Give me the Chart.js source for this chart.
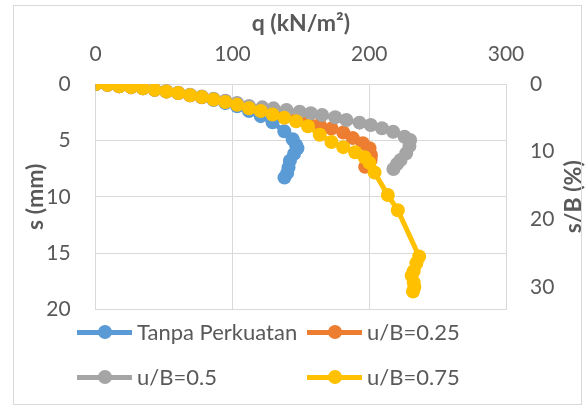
<!DOCTYPE html>
<html>
<head>
<meta charset="utf-8">
<script src="https://cdn.jsdelivr.net/npm/chart.js@4.4.1/dist/chart.umd.min.js"></script>
<style>
  body { margin: 0; background: #fff; }
  #wrap { position: relative; width: 588px; height: 409px; }
  #frame { position: absolute; left: 13px; top: 5px; width: 567px; height: 398px; border: 1px solid #d9d9d9; pointer-events: none; }
  .leg { position: absolute; height: 24px; font: 22px Lato, sans-serif; color: #595959; white-space: nowrap; }
  .leg .ln { position: absolute; left: 0; top: 10px; width: 55px; height: 5px; }
  .leg .dot { position: absolute; left: 21px; top: 5px; width: 14px; height: 14px; border-radius: 50%; }
  .leg .tx { position: absolute; left: 60px; top: -1px; line-height: 26px; }
</style>
</head>
<body>
<div id="wrap">
  <canvas id="chart" width="588" height="409"></canvas>
  <div id="frame"></div>
  <div id="legend"></div>
</div>
<script>
// Data: q (kN/m2) vs s (mm)
const seriesNames = ['Tanpa Perkuatan', 'u/B=0.25', 'u/B=0.5', 'u/B=0.75'];
const seriesColors = ['#5b9bd5', '#ed7d31', '#a5a5a5', '#ffc000'];

const qBlue = [0, 8.6, 17.2, 25.9, 34.5, 43.1, 51.7, 60.3, 69, 77.6, 86.2, 94.8, 103.4, 112.1, 120.7, 129.3, 137.9, 144, 146.5, 147.5, 145, 142, 141, 140, 138];
const sBlue = [0, 0.08, 0.2, 0.28, 0.38, 0.52, 0.66, 0.8, 1.0, 1.17, 1.42, 1.68, 1.97, 2.4, 2.85, 3.4, 4.2, 4.9, 5.4, 5.7, 6.2, 6.8, 7.4, 7.9, 8.3];

const qOrange = [0, 8.6, 17.2, 25.9, 34.5, 43.1, 51.7, 60.3, 69, 77.6, 86.2, 94.8, 103.4, 112.1, 120.7, 129.3, 137.9, 146.6, 155.2, 163.8, 172.4, 181, 188, 195.3, 200.2, 201.3, 201, 199, 197];
const sOrange = [0, 0.08, 0.2, 0.28, 0.38, 0.52, 0.66, 0.8, 1.0, 1.15, 1.36, 1.55, 1.75, 2.05, 2.3, 2.55, 2.85, 3.15, 3.4, 3.62, 3.95, 4.3, 4.8, 5.25, 5.7, 6.3, 6.75, 7.1, 7.35];

const qGray = [0, 8.6, 17.2, 25.9, 34.5, 43.1, 51.7, 60.3, 69, 77.6, 86.2, 94.8, 103.4, 112.1, 121.8, 130, 139.5, 149.1, 157.3, 165.5, 175.1, 183.3, 192.9, 201.1, 209.3, 217.5, 225.8, 229.9, 229.4, 227, 222.9, 220.3, 217.7];
const sGray = [0, 0.08, 0.2, 0.28, 0.38, 0.5, 0.64, 0.78, 0.96, 1.1, 1.3, 1.48, 1.68, 1.95, 2.07, 2.16, 2.31, 2.46, 2.6, 2.75, 2.95, 3.19, 3.43, 3.64, 3.93, 4.23, 4.68, 4.97, 5.5, 6.15, 6.74, 7.1, 7.54];

const qYellow = [0, 8.6, 17.2, 25.9, 34.5, 43.1, 51.7, 60.3, 69, 77.6, 86.2, 94.8, 103.4, 112.1, 120.7, 129.3, 137.9, 146.6, 155.2, 163.8, 172.4, 181, 189.7, 196.6, 200.2, 203.9, 213.6, 220.9, 236.5, 234.5, 232.5, 231, 232.5, 233, 232];
const sYellow = [0, 0.08, 0.2, 0.28, 0.38, 0.52, 0.66, 0.8, 1.0, 1.15, 1.38, 1.6, 1.85, 2.15, 2.4, 2.7, 3.0, 3.3, 3.75, 4.5, 5.15, 5.6, 6.05, 6.5, 7.0, 7.85, 9.85, 11.2, 15.3, 15.9, 16.6, 17.0, 17.6, 18.0, 18.4];

const qTicks = [0, 100, 200, 300];
const sTicks = [0, 5, 10, 15, 20];
const sbTicks = [0, 10, 20, 30];
const footingB = 60; // mm, so s/B axis runs 0..33.3 %

const xs = [qBlue, qOrange, qGray, qYellow];
const ys = [sBlue, sOrange, sGray, sYellow];

const textColor = '#595959';
const gridColor = '#d9d9d9';

const datasets = seriesNames.map((name, i) => ({
    label: name,
    data: xs[i].map((q, j) => ({ x: q, y: ys[i][j] })),
    showLine: true,
    borderColor: seriesColors[i],
    backgroundColor: seriesColors[i],
    pointBackgroundColor: seriesColors[i],
    pointBorderColor: seriesColors[i],
    borderWidth: 5,
    pointRadius: 7,
    pointBorderWidth: 0,
    order: 4 - i, // Excel draws the last series on top
    yAxisID: 'y'
}));

// Título do eixo direito lido de baixo para cima, como no Excel
const rightTitle = {
    id: 'rightTitle',
    afterDraw(chart) {
        const ctx = chart.ctx;
        const area = chart.chartArea;
        ctx.save();
        ctx.translate(574, (area.top + area.bottom) / 2);
        ctx.rotate(-Math.PI / 2);
        ctx.font = 'bold 23px Lato, sans-serif';
        ctx.fillStyle = textColor;
        ctx.textAlign = 'center';
        ctx.textBaseline = 'middle';
        ctx.fillText('s/B (%)', 0, 0);
        ctx.restore();
    }
};

const chart = new Chart(document.getElementById('chart'), {
    type: 'scatter',
    data: { datasets },
    options: {
        responsive: false,
        animation: false,
        layout: { padding: { left: 0, right: 0, top: 0, bottom: 99.5 } },
        plugins: { legend: { display: false }, tooltip: { enabled: false } },
        scales: {
            x: {
                type: 'linear',
                position: 'top',
                min: 0, max: 300,
                afterBuildTicks: s => { s.ticks = qTicks.map(v => ({ value: v })); },
                ticks: { color: textColor, font: { family: 'Lato', size: 21 }, padding: 17 },
                grid: { color: gridColor, drawTicks: false },
                border: { color: gridColor },
                title: { display: true, text: 'q (kN/m²)', color: textColor, font: { family: 'Lato', size: 23, weight: 'bold' }, padding: { top: 10 } },
                afterFit: s => { s.height = 84; }
            },
            y: {
                type: 'linear',
                position: 'left',
                reverse: true,
                min: 0, max: 20,
                afterBuildTicks: s => { s.ticks = sTicks.map(v => ({ value: v })); },
                ticks: { color: textColor, font: { family: 'Lato', size: 21 }, padding: 25 },
                grid: { color: gridColor, drawTicks: false },
                border: { color: gridColor },
                title: { display: true, text: 's (mm)', color: textColor, font: { family: 'Lato', size: 23, weight: 'bold' }, padding: { top: 22 } },
                afterFit: s => { s.width = 95.7; }
            },
            y2: {
                type: 'linear',
                position: 'right',
                reverse: true,
                min: 0, max: 20 / footingB * 100,
                afterBuildTicks: s => { s.ticks = sbTicks.map(v => ({ value: v })); },
                ticks: { color: textColor, font: { family: 'Lato', size: 21 }, padding: 24 },
                grid: { display: false, drawTicks: false },
                border: { color: gridColor },
                afterFit: s => { s.width = 82; }
            }
        }
    },
    plugins: [rightTitle]
});

// Legenda em HTML, duas colunas alinhadas
const legendPos = [[77, 320], [307, 320], [77, 365], [307, 365]];
const legend = document.getElementById('legend');
seriesNames.forEach((name, i) => {
    const item = document.createElement('div');
    item.className = 'leg';
    item.style.left = legendPos[i][0] + 'px';
    item.style.top = legendPos[i][1] + 'px';
    item.innerHTML = `<div class="ln" style="background:${seriesColors[i]}"></div>` +
        `<div class="dot" style="background:${seriesColors[i]}"></div>` +
        `<span class="tx">${name}</span>`;
    legend.appendChild(item);
});
</script>
</body>
</html>
